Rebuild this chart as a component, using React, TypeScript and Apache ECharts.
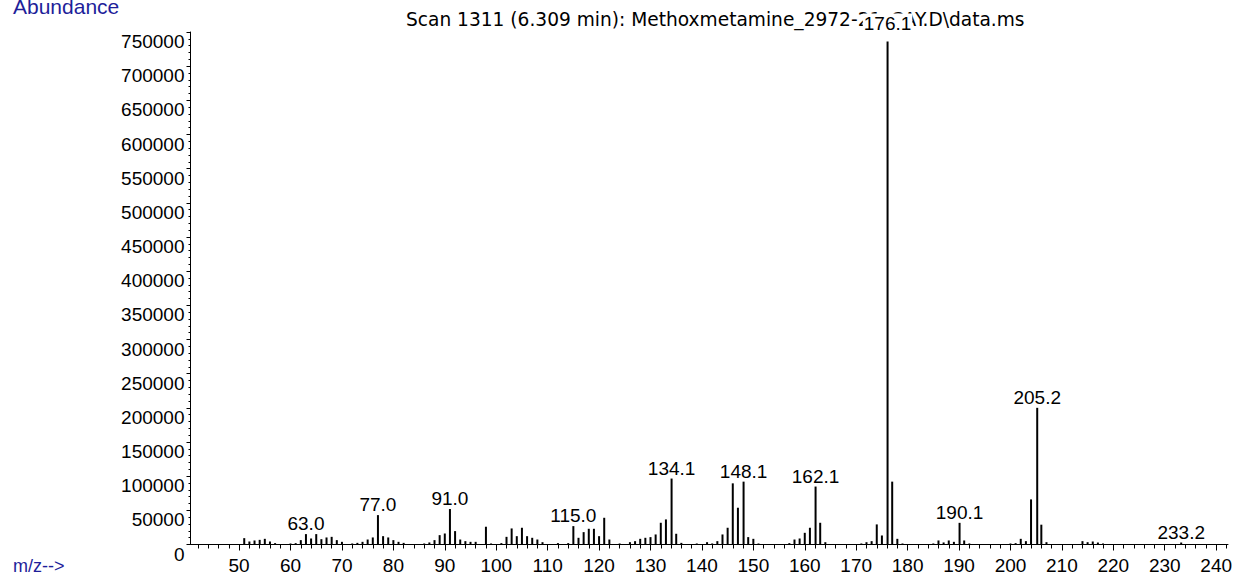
import React, { useEffect, useRef } from "react";
import * as echarts from "echarts";

const mzValues = [
  51, 52, 53, 54, 55, 56, 57,
  60, 61, 62, 63, 64, 65, 66, 67, 68, 69, 70,
  72, 73, 74, 75, 76, 77, 78, 79, 80, 81, 82,
  86, 87, 88, 89, 90, 91, 92, 93, 94, 95, 96, 98, 99,
  101, 102, 103, 104, 105, 106, 107, 108, 109,
  112, 114, 115, 116, 117, 118, 119, 120, 121, 122,
  124, 126, 127, 128, 129, 130, 131, 132, 133, 134.1, 135, 136,
  139, 141, 142, 143, 144, 145, 146, 147, 148.1, 149, 150, 151,
  157, 158, 159, 160, 161, 162.1, 163, 164,
  171, 172, 173, 174, 175, 176.1, 177, 178, 179,
  185, 186, 187, 188, 189, 190.1, 191, 192,
  200, 201, 202, 203, 204, 205.2, 206, 207,
  214, 215, 216, 217, 218,
  233.2,
];

const abundances = [
  9300, 4400, 5900, 6800, 8300, 4400, 2000,
  1500, 2000, 6400, 15200, 8800, 15200, 7800, 10300, 11200, 6400, 3900,
  1500, 2400, 3900, 7300, 10300, 43000, 12200, 10300, 6400, 3900, 2400,
  1500, 3000, 6400, 13700, 16100, 51900, 19600, 7300, 4900, 3900, 3900, 26000, 1500,
  2000, 11200, 23500, 12200, 24500, 12200, 9800, 7300, 3400,
  2000, 2000, 26900, 9800, 18100, 23000, 23000, 12200, 39100, 7300,
  1500, 3400, 4900, 8300, 9800, 10800, 14700, 31800, 36700, 96500, 15700, 2400,
  1500, 3400, 1500, 4900, 14700, 24500, 89500, 53800, 92000, 10800, 8300, 1500,
  2000, 7300, 8800, 17100, 24500, 84800, 31800, 3400,
  1500, 3400, 4900, 29400, 13200, 736000, 92000, 8300, 1500,
  1500, 5900, 3000, 5900, 3900, 31700, 5900, 1500,
  1500, 2000, 8300, 4900, 66000, 200000, 29000, 3400,
  4900, 3400, 4400, 2900, 1500,
  2900,
];

const labeledPeaks = [63.0, 77.0, 91.0, 115.0, 134.1, 148.1, 162.1, 176.1, 190.1, 205.2, 233.2];

const xMajorTicks = [50, 60, 70, 80, 90, 100, 110, 120, 130, 140, 150, 160, 170, 180, 190, 200, 210, 220, 230, 240];
const xMinorTicks = [
  42, 44, 46, 48, 52, 54, 56, 58, 62, 64, 66, 68, 72, 74, 76, 78, 82, 84, 86, 88,
  92, 94, 96, 98, 102, 104, 106, 108, 112, 114, 116, 118, 122, 124, 126, 128,
  132, 134, 136, 138, 142, 144, 146, 148, 152, 154, 156, 158, 162, 164, 166, 168,
  172, 174, 176, 178, 182, 184, 186, 188, 192, 194, 196, 198, 202, 204, 206, 208,
  212, 214, 216, 218, 222, 224, 226, 228, 232, 234, 236, 238, 242,
];

const titleText = "Scan 1311 (6.309 min): Methoxmetamine_2972-21_CAY.D\\data.ms";
const yAxisName = "Abundance";
const xAxisName = "m/z-->";

const FONT = "'Liberation Sans', Arial, sans-serif";
const TITLE_FONT = "'DejaVu Sans', 'Liberation Sans', sans-serif";

export default function App() {
  const ref = useRef<HTMLDivElement>(null);

  useEffect(() => {
    if (!ref.current) return;
    const chart = echarts.init(ref.current, undefined, { renderer: "svg" });

    const data = mzValues.map((mz, i) => {
      const isLabeled = labeledPeaks.some((p) => Math.abs(p - mz) < 1e-6);
      const item: any = { value: [mz, abundances[i]] };
      if (isLabeled) {
        item.label = {
          show: true,
          position: "top",
          distance: mz === 176.1 ? 9 : 1,
          formatter: mz.toFixed(1),
          color: "#000",
          fontFamily: FONT,
          fontSize: 19,
          backgroundColor: mz === 176.1 ? "#fff" : "transparent",
          padding: [0, 1, 0, 1],
        };
      }
      return item;
    });

    chart.setOption({
      animation: false,
      backgroundColor: "#fff",
      grid: {
        left: 190.5,
        right: 10,
        top: 32,
        bottom: 30.5,
        containLabel: false,
        outerBoundsMode: "none",
      },
      graphic: [
        {
          type: "text",
          left: 406,
          top: 10,
          z: 0,
          style: { text: titleText, fontFamily: TITLE_FONT, fontSize: 18.6, fill: "#000" },
        },
        {
          type: "text",
          left: 13,
          top: -4,
          style: { text: yAxisName, fontFamily: FONT, fontSize: 21, fill: "#1e1e9a" },
        },
        {
          type: "text",
          left: 13,
          top: 557,
          style: { text: xAxisName, fontFamily: FONT, fontSize: 18, fill: "#1e1e9a" },
        },
      ],
      xAxis: [
        {
          type: "value",
          min: 40.55,
          max: 242.3,
          position: "bottom",
          axisLine: { show: true, onZero: false, lineStyle: { color: "#000", width: 1 } },
          axisTick: { show: true, length: 6, customValues: xMajorTicks, lineStyle: { color: "#000" } },
          axisLabel: {
            show: true,
            customValues: xMajorTicks,
            margin: 11,
            color: "#000",
            fontFamily: FONT,
            fontSize: 19,
          },
          splitLine: { show: false },
        },
        {
          type: "value",
          min: 40.55,
          max: 242.3,
          position: "bottom",
          axisLine: { show: false, onZero: false },
          axisTick: { show: true, length: 4, customValues: xMinorTicks, lineStyle: { color: "#000" } },
          axisLabel: { show: false },
          splitLine: { show: false },
        },
      ],
      yAxis: {
        type: "value",
        min: 0,
        max: 750000,
        interval: 50000,
        axisLine: { show: true, onZero: false, lineStyle: { color: "#000", width: 1 } },
        axisTick: { show: true, length: 4, lineStyle: { color: "#000" } },
        minorTick: { show: true, splitNumber: 5, length: 2, lineStyle: { color: "#000" } },
        axisLabel: {
          color: "#000",
          fontFamily: FONT,
          fontSize: 19,
          margin: 6,
          verticalAlign: "top",
          formatter: (v: number) => String(v),
        },
        splitLine: { show: false },
      },
      series: [
        {
          type: "bar",
          xAxisIndex: 0,
          yAxisIndex: 0,
          barWidth: 2,
          itemStyle: { color: "#000" },
          data,
          z: 3,
        },
      ],
    });

    return () => chart.dispose();
  }, []);

  return (
    <div
      ref={ref}
      style={{ position: "absolute", left: 0, top: 0, width: 1238, height: 575, background: "#fff" }}
    />
  );
}
